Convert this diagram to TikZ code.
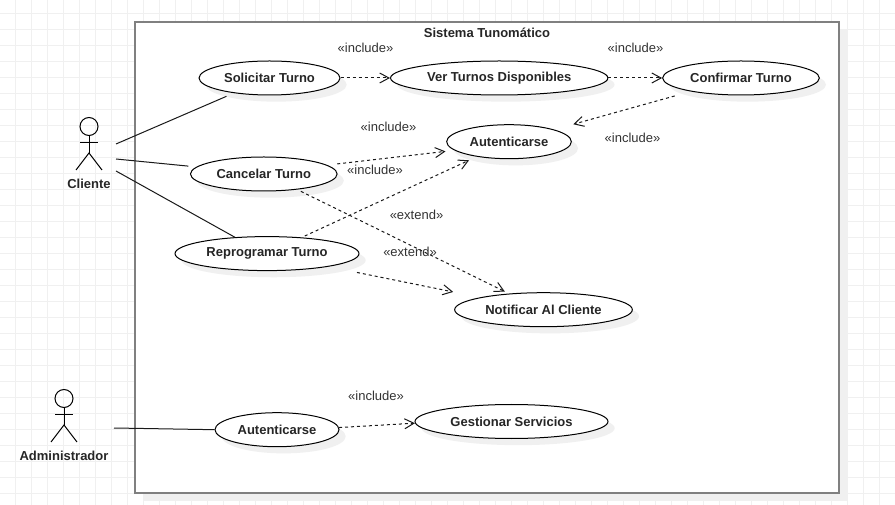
\documentclass[tikz,border=0pt]{standalone}
\usepackage{fontspec}
\setmainfont{Liberation Sans}
\usetikzlibrary{arrows.meta,shadows,shapes.geometric}
\definecolor{gridc}{HTML}{F0F0F0}
\definecolor{framec}{HTML}{808080}
\definecolor{txtc}{HTML}{333333}
\begin{document}
\begin{tikzpicture}[x=0.75pt,y=-0.75pt,line width=0.75pt,font=\fontsize{9.75}{12}\selectfont,
 uc/.style={draw,ellipse,inner sep=0pt,minimum height=25.5pt,fill=white,font=\fontsize{9.75}{12}\selectfont\bfseries,text=black!85,
  drop shadow={shadow xshift=5pt,shadow yshift=-5pt,fill=gridc,opacity=1}},
 stereo/.style={text=txtc},
 actorname/.style={font=\fontsize{9.75}{12}\selectfont\bfseries,text=black!85},
 head/.style={draw,circle,inner sep=0pt,minimum size=13.5pt},
 assoc/.style={draw=black!90},
 dep/.style={draw=black!90,dash pattern=on 2.25pt off 2.25pt,-{Straight Barb[length=7pt,width=7.5pt]}}]
\useasboundingbox (0,0) rectangle (895,505);
% grid
\foreach \i in {1,...,55} \draw[gridc] (16*\i-0.3,0)--(16*\i-0.3,505);
\foreach \i in {1,...,31} \draw[gridc] (0,16*\i-2.3)--(895,16*\i-2.3);
% system
\node[draw=framec,line width=1.5pt,fill=white,minimum width=528pt,minimum height=353.5pt,inner sep=0pt,
 drop shadow={shadow xshift=6pt,shadow yshift=-6pt,fill=gridc,opacity=1}] (sistema) at (487,257.3) {};
\node[actorname] (titulo) at (487,33) {Sistema Tunomático};
% actors
\foreach \n/\x/\y/\t in {cliente/89/126.5/Cliente,admin/64/398.5/Administrador}{
 \node[head] (\n) at (\x,\y) {};
 \draw (\n.south)--++(0,17) coordinate (\n hip);
 \draw (\x-9,\y+16)--(\x+9,\y+16);
 \draw (\x-13,\y+43.5)--(\n hip)--(\x+13,\y+43.5);
 \node[actorname] (\n name) at (\x,\y+57) {\t};
}
\coordinate (c1) at (116,144);
\coordinate (c2) at (116,159);
\coordinate (c3) at (116,171);
\coordinate (a1) at (114,428);
% use cases
\node[uc,minimum width=105.75pt] (solicitar) at (269.5,78) {Solicitar Turno};
\node[uc,minimum width=163pt] (ver) at (499.2,78) {Ver Turnos Disponibles};
\node[uc,minimum width=117.5pt] (confirmar) at (741,78) {Confirmar Turno};
\node[uc,minimum width=93.5pt] (autent) at (509,141.7) {Autenticarse};
\node[uc,minimum width=110pt] (cancelar) at (263.8,174) {Cancelar Turno};
\node[uc,minimum width=138pt] (reprog) at (267,253.6) {Reprogramar Turno};
\node[uc,minimum width=133.25pt] (notificar) at (543.5,309.7) {Notificar Al Cliente};
\node[uc,minimum width=93pt] (autent2) at (277,429.7) {Autenticarse};
\node[uc,minimum width=144.75pt] (gestionar) at (511.5,421.5) {Gestionar Servicios};
% associations
\draw[assoc,shorten >=6pt] (c1)--(solicitar.203);
\draw[assoc,shorten >=6pt] (c2)--(cancelar.174);
\draw[assoc] (c3)--(reprog.153);
\draw[assoc] (a1)--(autent2.west);
% dependencies
\draw[dep] (solicitar.east)--(ver.west);
\draw[dep] (ver.east)--(confirmar.west);
\draw[dep,shorten <=12.5pt,shorten >=14.8pt] (confirmar.195)--(autent.15);
\draw[dep,shorten <=7.5pt,shorten >=6.7pt] (cancelar.8)--(autent.189);
\draw[dep,shorten <=2.5pt,shorten >=6.4pt] (reprog.25)--(autent.205);
\draw[dep,shorten <=3pt,shorten >=3.4pt] (cancelar.335)--(notificar.155);
\draw[dep,shorten <=21.8pt,shorten >=20.6pt] (reprog.348)--(notificar.169);
\draw[dep] (autent2.2)--(gestionar.181);
% labels
\node[stereo] (inc1) at (365.5,47.5) {«include»};
\node[stereo] (inc2) at (635.5,47.5) {«include»};
\node[stereo] (inc3) at (388.5,126.5) {«include»};
\node[stereo] (inc4) at (632.5,137.5) {«include»};
\node[stereo] (inc5) at (375,169.5) {«include»};
\node[stereo] (inc6) at (376,395.5) {«include»};
\node[stereo] (ext1) at (416.5,214.5) {«extend»};
\node[stereo] (ext2) at (410,251.5) {«extend»};
\end{tikzpicture}
\end{document}
